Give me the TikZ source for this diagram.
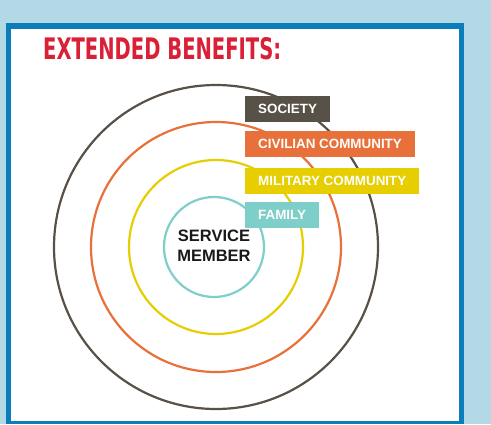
\documentclass[tikz,border=0pt]{standalone}
\usepackage{graphicx}
\usepackage{fontspec}
\setmainfont{Liberation Sans}
\newfontfamily\titlefont{DejaVu Sans Condensed}
\definecolor{skyback}{HTML}{B3D8E6}
\definecolor{frameblue}{HTML}{0B7DB9}
\definecolor{titlered}{HTML}{DA2036}
\definecolor{societygray}{HTML}{585148}
\definecolor{civilorange}{HTML}{E8703A}
\definecolor{militaryyellow}{HTML}{E6CE00}
\definecolor{familyteal}{HTML}{7ECFC9}
\begin{document}
\begin{tikzpicture}[x=1pt,y=-1pt,
    ring/.style={line width=2.2pt},
    tag/.style={anchor=west,text=white,font=\fontsize{13.4}{15}\selectfont\bfseries,
        inner xsep=13pt,inner ysep=0pt,minimum height=26pt}]
    \fill[skyback] (0,0) rectangle (491,424);
    \fill[frameblue] (6,23) rectangle (464,424);
    \fill[white] (11,29) rectangle (459,421);
    \node[anchor=west,inner sep=0pt,text=titlered] (title) at (43,49) {\resizebox{238pt}{22pt}{\titlefont\bfseries EXTENDED BENEFITS:}};
    % rings
    \coordinate (c) at (216,247);
    \draw[ring,societygray] (c) circle[radius=162pt];
    \draw[ring,civilorange] (c) circle[radius=125pt];
    \draw[ring,militaryyellow] (c) circle[radius=87pt];
    \draw[ring,familyteal] (214,247) circle[radius=50pt];
    % labels
    \node[tag,fill=societygray] (society) at (245,108.5) {SOCIETY};
    \node[tag,fill=civilorange] (civil) at (245,144) {CIVILIAN COMMUNITY};
    \node[tag,fill=militaryyellow] (military) at (245,180.5) {MILITARY COMMUNITY};
    \node[tag,fill=familyteal] (family) at (245,215) {FAMILY};
    \node[align=center,font=\fontsize{16.5}{20}\selectfont\bfseries,text=black!90] (member) at (214,246) {SERVICE\\MEMBER};
\end{tikzpicture}
\end{document}
